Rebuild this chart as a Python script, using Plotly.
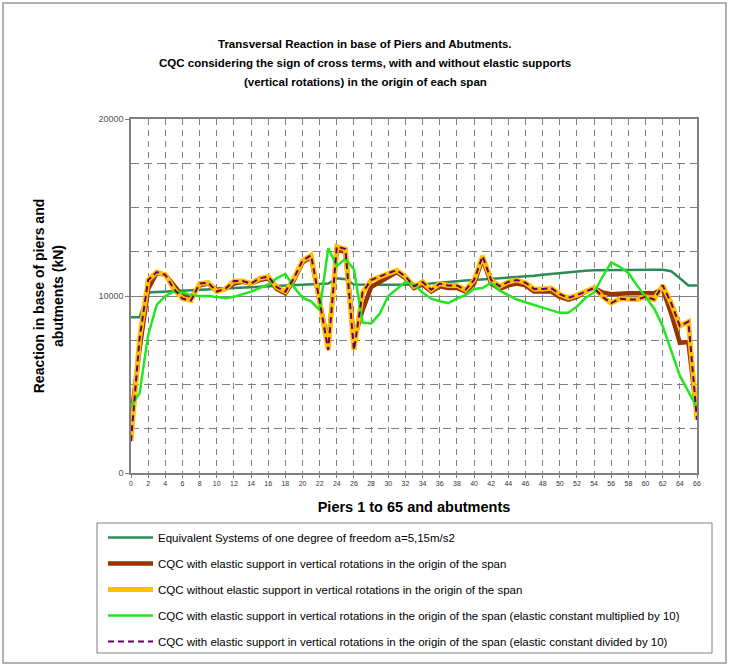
import plotly.graph_objects as go

piers = list(range(0, 67))

esdof = [8800, 8800, 10200, 10220, 10250, 10270, 10300, 10320, 10350, 10370,
         10400, 10420, 10450, 10470, 10500, 10520, 10550, 10570, 10600, 10600,
         10620, 10620, 10650, 10700, 11000, 10950, 10650, 10630, 10630, 10630,
         10630, 10630, 10630, 10640, 10650, 10700, 10750, 10800, 10850, 10880,
         10900, 10930, 10960, 11000, 11030, 11060, 11100, 11150, 11200, 11250,
         11300, 11350, 11400, 11430, 11450, 11460, 11470, 11480, 11480, 11480,
         11480, 11480, 11480, 11400, 11000, 10600, 10600]

cqc_elastic = [3000, 7000, 10400, 11300, 11200, 10600, 10000, 9900, 10600, 10700,
               10350, 10400, 10700, 10800, 10700, 10900, 11000, 10400, 10150, 10900,
               11900, 12200, 9700, 7200, 12600, 12500, 7500, 9200, 10500, 10800,
               11100, 11350, 11000, 10450, 10650, 10250, 10550, 10450, 10450, 10250,
               10700, 12100, 10700, 10400, 10600, 10700, 10600, 10250, 10250, 10250,
               9950, 9800, 9950, 10250, 10450, 10200, 10100, 10150, 10150, 10150,
               10150, 10150, 10400, 9000, 7350, 7400, 3200]

cqc_no_elastic = [1800, 7600, 10900, 11350, 11200, 10400, 9850, 9750, 10700, 10750,
                  10250, 10400, 10850, 10850, 10700, 11000, 11100, 10500, 10250, 11000,
                  12000, 12300, 9700, 6950, 12800, 12650, 6950, 10200, 10900, 11100,
                  11300, 11450, 11100, 10550, 10800, 10350, 10700, 10600, 10600, 10350,
                  10900, 12250, 10900, 10550, 10800, 10900, 10750, 10400, 10400, 10450,
                  10100, 9900, 10050, 10250, 10450, 9950, 9600, 9850, 9800, 9800,
                  9950, 9800, 10600, 9600, 8300, 8550, 3000]

cqc_x10 = [3800, 4500, 7800, 9500, 10000, 10250, 10200, 10050, 10000, 10000,
           9950, 9870, 9950, 10100, 10250, 10450, 10650, 11000, 11250, 10500,
           9900, 9700, 9200, 12700, 11700, 12100, 11500, 8500, 8450, 9000,
           10000, 10400, 10800, 10650, 10200, 9850, 9700, 9600, 9850, 10050,
           10400, 10450, 10750, 10300, 10050, 9800, 9650, 9500, 9350, 9200,
           9050, 9050, 9400, 9900, 10200, 11100, 11900, 11650, 11300, 10600,
           9950, 9300, 8300, 6900, 5500, 4600, 3700]

cqc_div10 = [1800, 7600, 10900, 11350, 11200, 10400, 9850, 9750, 10700, 10750,
             10250, 10400, 10850, 10850, 10700, 11000, 11100, 10500, 10250, 11000,
             12000, 12300, 9700, 6950, 12800, 12650, 6950, 10200, 10900, 11100,
             11300, 11450, 11100, 10550, 10800, 10350, 10700, 10600, 10600, 10350,
             10900, 12250, 10900, 10550, 10800, 10900, 10750, 10400, 10400, 10450,
             10100, 9900, 10050, 10250, 10450, 9950, 9600, 9850, 9800, 9800,
             9950, 9800, 10600, 9600, 8300, 8550, 3000]

names = [
    "Equivalent Systems of one degree of freedom a=5,15m/s2",
    "CQC with elastic support in vertical rotations in the origin of the span",
    "CQC without elastic support in vertical rotations in the origin of the span",
    "CQC with elastic support in vertical rotations in the origin of the span (elastic constant multiplied by 10)",
    "CQC with elastic support in vertical rotations in the origin of the span (elastic constant divided by 10)",
]

title_lines = [
    "Transversal Reaction in base of Piers and Abutments.",
    "CQC considering the sign of cross terms, with and without elastic supports",
    "(vertical rotations) in the origin of each span",
]

x_ticks = list(range(0, 67, 2))
y_ticks = [0, 10000, 20000]
y_ticktext = ["0", "10000", "20000"]

FONT = "Liberation Sans, Arial, sans-serif"

fig = go.Figure()
fig.add_trace(go.Scatter(x=piers, y=esdof, mode="lines", name=names[0],
                         line=dict(color="#2E8B57", width=2.5), legendgroup="a"))
fig.add_trace(go.Scatter(x=piers, y=cqc_elastic, mode="lines", name=names[1],
                         line=dict(color="#993300", width=4.5), legendgroup="b"))
fig.add_trace(go.Scatter(x=piers, y=cqc_no_elastic, mode="lines", name=names[2],
                         line=dict(color="#FFC000", width=5), legendgroup="c"))
fig.add_trace(go.Scatter(x=piers, y=cqc_x10, mode="lines", name=names[3],
                         line=dict(color="#22E622", width=2.5), legendgroup="d"))
fig.add_trace(go.Scatter(x=piers, y=cqc_div10, mode="lines", name=names[4],
                         line=dict(color="#660066", width=2, dash="6px,4px"), legendgroup="e"))

fig.update_layout(
    width=729, height=666,
    margin=dict(l=131, r=32, t=119, b=193, autoexpand=False),
    paper_bgcolor="white", plot_bgcolor="white",
    font=dict(family=FONT, color="#000000"),
    xaxis=dict(range=[0, 66], tickvals=x_ticks, ticktext=[str(v) for v in x_ticks],
               tickfont=dict(size=7, color="#333333"),
               showgrid=True, gridcolor="#808080", griddash="6px,5px", gridwidth=1,
               showline=True, linecolor="#808080", linewidth=1.5, mirror=True,
               ticks="outside", ticklen=3, tickcolor="#808080", zeroline=False,
               automargin=False,
               title=dict(text="<b>Piers 1 to 65 and abutments</b>",
                          font=dict(size=14.5), standoff=16)),
    yaxis=dict(range=[0, 20000], tickvals=y_ticks, ticktext=y_ticktext,
               tickfont=dict(size=9, color="#555555"),
               showgrid=True, gridcolor="#808080", gridwidth=1,
               minor=dict(dtick=2500, showgrid=True, gridcolor="#808080",
                          griddash="8px,5px", gridwidth=1),
               showline=True, linecolor="#808080", linewidth=1.5, mirror=True,
               ticks="outside", ticklen=4, tickcolor="#808080", zeroline=False,
               automargin=False,
               title=dict(text="<b>Reaction in base of piers and<br>abutments (kN)</b>",
                          font=dict(size=14), standoff=32)),
    legend=dict(x=(103 - 131) / 566, y=(473 - 523) / 354, xanchor="left", yanchor="top",
                borderwidth=0, bgcolor="rgba(0,0,0,0)",
                font=dict(size=11.5, family=FONT), tracegroupgap=7,
                itemwidth=45, traceorder="grouped"),
    showlegend=True,
)

for i, line in enumerate(title_lines):
    fig.add_annotation(text="<b>" + line + "</b>", xref="paper", yref="paper",
                       x=(365 - 131) / 566, y=(473 - (44 + 19 * i)) / 354,
                       xanchor="center", yanchor="middle", showarrow=False,
                       font=dict(size=11.5, family=FONT))

# outer chart frame
fig.add_shape(type="rect", xref="paper", yref="paper",
              x0=(3 - 131) / 566, x1=(726 - 131) / 566,
              y0=(473 - 663) / 354, y1=(473 - 3) / 354,
              line=dict(color="#999999", width=1.5), fillcolor="rgba(0,0,0,0)",
              layer="below")
# legend frame
fig.add_shape(type="rect", xref="paper", yref="paper",
              x0=(97 - 131) / 566, x1=(712 - 131) / 566,
              y0=(473 - 653) / 354, y1=(473 - 523) / 354,
              line=dict(color="#808080", width=1), fillcolor="rgba(0,0,0,0)",
              layer="below")

fig.write_html("out.html", config={"displayModeBar": False},
               post_script="document.body.style.margin='0';")
